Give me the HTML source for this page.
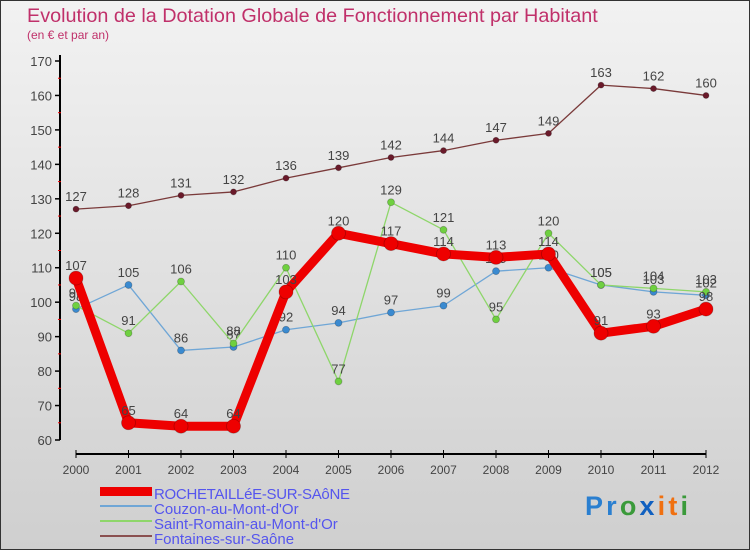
<!DOCTYPE html>
<html><head><meta charset="utf-8"><style>
body{margin:0;width:750px;height:550px;overflow:hidden;font-family:"Liberation Sans",sans-serif}
#wrap{position:absolute;left:0;top:0;width:748px;height:548px;border:1px solid #333;background:linear-gradient(#f2f2f2,#cfcfcf)}
</style></head><body>
<div id="wrap">
<svg id="chart" width="750" height="550" style="position:absolute;left:-1px;top:-1px">
<text x="27" y="22" font-size="19.8" fill="#c0306a">Evolution de la Dotation Globale de Fonctionnement par Habitant</text>
<text x="27" y="39" font-size="12" fill="#c0306a">(en € et par an)</text>
<g id="axes"></g><g id="series"></g>
<g>
<rect x="100" y="487" width="52" height="9" fill="#e00"/>
<text x="154" y="499" font-size="15" fill="#5555ee" textLength="196">ROCHETAILLéE-SUR-SAôNE</text>
<rect x="100" y="505" width="52" height="2" fill="#6fa6d6"/>
<text x="154" y="514" font-size="15" fill="#5555ee">Couzon-au-Mont-d'Or</text>
<rect x="100" y="520" width="52" height="2" fill="#8ed66a"/>
<text x="154" y="529" font-size="15" fill="#5555ee">Saint-Romain-au-Mont-d'Or</text>
<rect x="100" y="535" width="52" height="2" fill="#8a5050"/>
<text x="154" y="544" font-size="15" fill="#5555ee">Fontaines-sur-Saône</text>
</g>
<text x="585" y="515" font-size="27" font-weight="bold" textLength="103"><tspan fill="#2a7fd0">Pr</tspan><tspan fill="#3a9a3a">o</tspan><tspan fill="#1060c0">x</tspan><tspan fill="#f07010">it</tspan><tspan fill="#3a9a3a">i</tspan></text>
</svg></div>
<script>
const years=["2000","2001","2002","2003","2004","2005","2006","2007","2008","2009","2010","2011","2012"];
const yTicks=[60,70,80,90,100,110,120,130,140,150,160,170];
const rochetaillee=[107,65,64,64,103,120,117,114,113,114,91,93,98];
const couzon=[98,105,86,87,92,94,97,99,109,110,105,103,102];
const saintRomain=[99,91,106,88,110,77,129,121,95,120,105,104,103];
const fontaines=[127,128,131,132,136,139,142,144,147,149,163,162,160];
const NS="http://www.w3.org/2000/svg";
function xs(i){return 76+i*(706-76)/(years.length-1);}
function ys(v){return 440-(v-60)*(440-61)/110;}
function mk(t,a,p){const e=document.createElementNS(NS,t);for(const k in a)e.setAttribute(k,a[k]);p.appendChild(e);return e;}
const ax=document.getElementById('axes');
const yl=mk('line',{x1:60,y1:55,x2:60,y2:440,stroke:'#000','stroke-width':2},ax);


yTicks.forEach(v=>{const y=ys(v);
mk('line',{x1:55,y1:y,x2:60,y2:y,stroke:'#000','stroke-width':1.5},ax);
if(v<170)mk('line',{x1:58,y1:ys(v+5),x2:61,y2:ys(v+5),stroke:'#e00','stroke-width':1},ax);
const t=mk('text',{x:52,y:y+5,'font-size':13,fill:'#444','text-anchor':'end'},ax);t.textContent=v;

});
const xl=mk('line',{x1:76,y1:454,x2:706,y2:454,stroke:'#000','stroke-width':2},ax);


years.forEach((yr,i)=>{const x=xs(i);
mk('line',{x1:x,y1:450,x2:x,y2:458,stroke:'#000'},ax);
const t=mk('text',{x:x,y:474,'font-size':12,fill:'#444','text-anchor':'middle'},ax);t.textContent=yr;

});
const sg=document.getElementById('series');
function series(data,name,color,w,r,dot){
const g=mk('g',{},sg);


mk('polyline',{points:data.map((v,i)=>xs(i)+','+ys(v)).join(' '),fill:'none',stroke:color,'stroke-width':w,'stroke-linejoin':'round'},g);
data.forEach((v,i)=>{const c=mk('circle',{cx:xs(i),cy:ys(v),r:r,fill:dot,stroke:'rgba(0,0,0,0.25)','stroke-width':0.8},g);


const t=mk('text',{x:xs(i),y:ys(v)-8,'font-size':13,fill:'#444','text-anchor':'middle'},g);t.textContent=v;

});
}
series(fontaines,'fontaines-series','#7a3a3a',1.3,3,'#6a1a2a');
series(couzon,'couzon-series','#6fa6d6',1.3,3.5,'#3a8ad0');
series(saintRomain,'saint-romain-series','#8ed66a',1.3,3.5,'#6fd040');
series(rochetaillee,'rochetaillee-series','#ee0000',9,7,'#ee0000');
</script>
</body></html>
